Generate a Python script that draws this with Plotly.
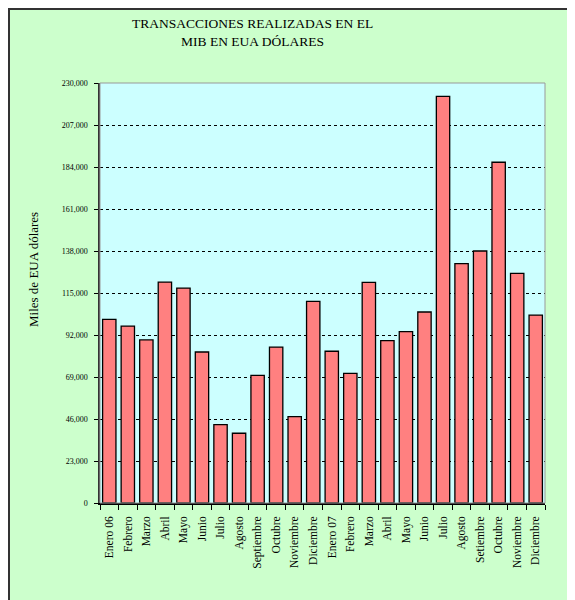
import plotly.graph_objects as go

# Monthly values, thousands of USD
months = [
    "Enero 06", "Febrero", "Marzo", "Abril", "Mayo", "Junio", "Julio",
    "Agosto", "Septiembre", "Octubre", "Noviembre", "Diciembre",
    "Enero 07", "Febrero", "Marzo", "Abril", "Mayo", "Junio", "Julio",
    "Agosto", "Setiembre", "Octubre", "Noviembre", "Diciembre",
]
values = [
    100600, 96900, 89300, 121000, 117700, 82700, 42900, 38200, 69900,
    85400, 47300, 110400,
    83100, 71000, 120800, 88900, 93800, 104600, 222700, 131100, 138000,
    186600, 125800, 102900,
]
y_ticks = list(range(0, 230001, 23000))

SERIF = "Times New Roman, Liberation Serif, serif"
# the page body adds an 8px offset, so the figure is drawn 8px smaller
OFF = 8
W, H = 575 - OFF, 600 - OFF
L, R, T, B = 100 - OFF, 30, 83 - OFF, 97
PW, PH = W - L - R, H - T - B


def px_x(sx):
    # screen x -> paper x
    return (sx - OFF - L) / PW


def px_y(sy):
    # screen y -> paper y
    return (H - B - (sy - OFF)) / PH


pos = list(range(len(months)))

fig = go.Figure(
    data=go.Bar(
        x=pos,
        y=values,
        marker=dict(color="#FF8080", line=dict(color="#000000", width=1.3)),
        hoverinfo="y",
    )
)

fig.update_layout(
    width=W,
    height=H,
    margin=dict(l=L, r=R, t=T, b=B),
    paper_bgcolor="#CCFFCC",
    plot_bgcolor="#CCFFFF",
    bargap=0.28,
    showlegend=False,
    font=dict(family=SERIF, color="#000000"),
    xaxis=dict(
        range=[-0.5, len(months) - 0.5],
        tickvals=pos,
        ticktext=months,
        tickangle=-90,
        tickfont=dict(size=11.5, family=SERIF, color="#000000"),
        ticks="",
        ticklabelstandoff=7,
        showline=True,
        linecolor="#000000",
        linewidth=1.5,
        showgrid=False,
        zeroline=False,
        minor=dict(tick0=-0.5, dtick=1, ticks="outside", ticklen=5,
                   tickcolor="#000000", tickwidth=1, showgrid=False),
    ),
    yaxis=dict(
        range=[0, 230000],
        tickvals=y_ticks,
        tickformat=",d",
        tickfont=dict(size=8, family=SERIF, color="#000000"),
        ticks="outside",
        ticklen=4,
        tickcolor="#000000",
        ticklabelstandoff=5,
        showline=True,
        linecolor="#333333",
        linewidth=1.5,
        showgrid=True,
        gridcolor="#000000",
        gridwidth=1,
        griddash="dot",
        zeroline=False,
    ),
    shapes=[
        # grey border of the plot area
        dict(type="rect", xref="paper", yref="paper", x0=0, x1=1, y0=0, y1=1,
             line=dict(color="#999999", width=1), layer="above"),
        # chart frame (left and top edges visible)
        dict(type="rect", xref="paper", yref="paper",
             x0=px_x(OFF + 1), x1=px_x(620), y0=px_y(640), y1=px_y(OFF + 1),
             line=dict(color="#333333", width=2), layer="above"),
    ],
    annotations=[
        dict(text="TRANSACCIONES REALIZADAS EN EL<br>MIB EN EUA DÓLARES",
             xref="paper", yref="paper", x=px_x(252), y=px_y(33),
             xanchor="center", yanchor="middle", showarrow=False,
             font=dict(size=13.5, family=SERIF, color="#000000")),
        dict(text="Miles de EUA dólares", textangle=-90,
             xref="paper", yref="paper", x=px_x(33), y=px_y(270),
             xanchor="center", yanchor="middle", showarrow=False,
             font=dict(size=13, family=SERIF, color="#000000")),
    ],
)

fig.write_html("out.html")
